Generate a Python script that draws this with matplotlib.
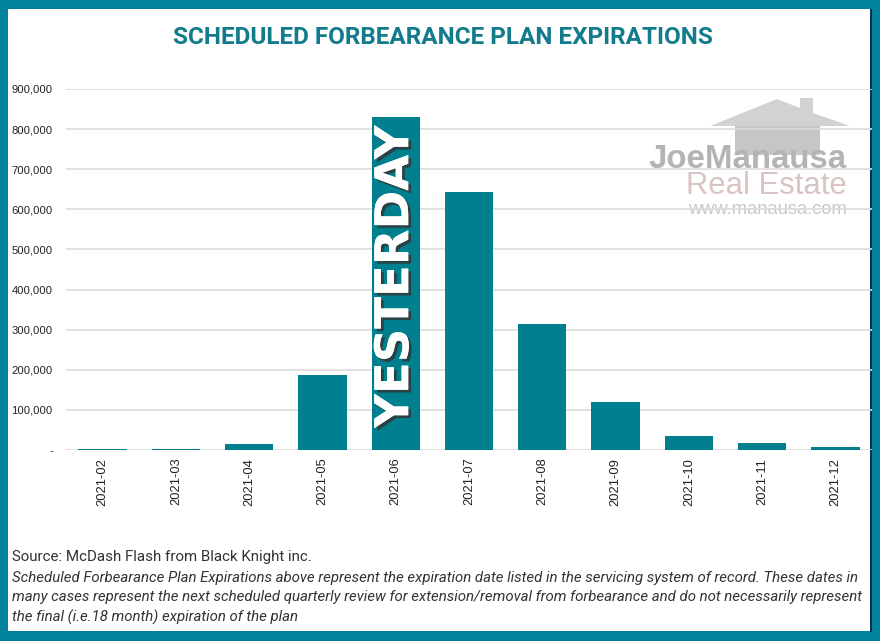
"""Scheduled forbearance plan expirations - bar chart"""

import matplotlib
matplotlib.use('Agg')

import matplotlib.pyplot as plt
import matplotlib.patheffects as pe
from matplotlib.patches import Rectangle, Polygon
from matplotlib.ticker import FuncFormatter

# data
months = ['2021-02', '2021-03', '2021-04', '2021-05', '2021-06', '2021-07',
          '2021-08', '2021-09', '2021-10', '2021-11', '2021-12']
expirations = [3000, 3000, 15000, 187000, 830000, 643000,
               314000, 120000, 35000, 17000, 7000]
yticks = [0, 100000, 200000, 300000, 400000, 500000, 600000, 700000, 800000, 900000]

title = 'SCHEDULED FORBEARANCE PLAN EXPIRATIONS'
source = 'Source: McDash Flash from Black Knight inc.'
note_lines = [
    'Scheduled Forbearance Plan Expirations above represent the expiration date listed in the servicing system of record. These dates in',
    'many cases represent the next scheduled quarterly review for extension/removal from forbearance and do not necessarily represent',
    'the final (i.e.18 month) expiration of the plan',
]

TEAL = '#00808f'
FRAME = '#00829a'
sans = ['Liberation Sans', 'DejaVu Sans']
narrow = ['Roboto', 'DejaVu Sans']

plt.rcParams['font.family'] = sans

fig = plt.figure(figsize=(8.8, 6.41), dpi=100)
W, H = 880, 641


def fx(px):
    return px / W


def fy(py):
    return 1 - py / H


def fit_width(t, width):
    # scale font so the text spans the given pixel width
    r = fig.canvas.get_renderer()
    w = t.get_window_extent(r).width
    t.set_fontsize(t.get_fontsize() * width / w)


# teal frame with white card
fig.patches.append(Rectangle((0, 0), 1, 1, transform=fig.transFigure,
                             facecolor=FRAME, edgecolor='none', zorder=-10))
fig.patches.append(Rectangle((fx(8), fy(631)), fx(862), 622 / H,
                             transform=fig.transFigure, facecolor='white',
                             edgecolor='none', zorder=-9))
fig.patches.append(Rectangle((fx(870), fy(632)), fx(1.5), 623 / H,
                             transform=fig.transFigure, facecolor='#102a5a',
                             edgecolor='none', zorder=-8))

# watermark (behind the chart)
roof = Polygon([(fx(710), fy(126)), (fx(777), fy(99)), (fx(800), fy(108)),
                (fx(800), fy(98)), (fx(813), fy(98)), (fx(813), fy(113)),
                (fx(850), fy(126))],
               transform=fig.transFigure, facecolor='#d2d2d2', edgecolor='none', zorder=-5)
body = Rectangle((fx(735), fy(155)), fx(85), 29 / H, transform=fig.transFigure,
                 facecolor='#c6c6c6', edgecolor='none', zorder=-5)
fig.patches.extend([roof, body])
wm1 = fig.text(fx(847), fy(160), 'JoeManausa', ha='right', va='center', fontsize=24,
               fontweight='bold', color='#b4b4b4', family=sans, zorder=-4)
wm2 = fig.text(fx(847), fy(186), 'Real Estate', ha='right', va='center', fontsize=22,
               color='#d9c3c3', family=sans, zorder=-4)
wm3 = fig.text(fx(847), fy(209), 'www.manausa.com', ha='right', va='center', fontsize=13,
               color='#c8c8c8', family=sans, zorder=-4)

ax = fig.add_axes([fx(66), fy(450), fx(806), 361 / H])
ax.set_facecolor('none')

x = range(len(months))
ax.bar(x, expirations, width=0.66, color=TEAL, zorder=3)

ax.set_xlim(-0.5, len(months) - 0.5)
ax.set_ylim(0, 900000)
ax.set_yticks(yticks)
ax.yaxis.set_major_formatter(FuncFormatter(lambda v, p: '-' if v == 0 else f'{int(v):,}'))
ax.set_xticks(list(x))
ax.set_xticklabels(months, rotation=90, fontsize=9.3, color='#222222')
ax.tick_params(axis='y', labelsize=8.1, colors='#222222', length=0, pad=9.5)
ax.tick_params(axis='x', length=0, pad=5.5)
ax.grid(axis='y', color='#dcdcdc', linewidth=1.2, zorder=0)
for s in ax.spines.values():
    s.set_visible(False)

# YESTERDAY label on the 2021-06 bar
idx = months.index('2021-06')
ax.text(idx, 432000, 'YESTERDAY', rotation=90, ha='center', va='center',
        fontsize=33.5, fontweight='bold', color='white', family=['DejaVu Sans'], zorder=5,
        path_effects=[pe.withSimplePatchShadow(offset=(2, -2), shadow_rgbFace='#333333', alpha=0.8),
                      pe.Normal()])

# title and notes
t_title = fig.text(fx(443), fy(38), title, ha='center', va='center', fontsize=16,
                   fontweight='bold', color='#127b8c', family=narrow)
t_src = fig.text(fx(12), fy(557), source, ha='left', va='center', fontsize=11,
                 color='#333333', family=narrow)
t_notes = []
for i, line in enumerate(note_lines):
    t_notes.append(fig.text(fx(12), fy(578 + 19.5 * i), line, ha='left', va='center',
                            fontsize=10, style='italic', color='#333333', family=narrow))

fit_width(t_title, 539)
fit_width(t_src, 300)
fit_width(wm1, 199)
fit_width(wm2, 160)
fit_width(wm3, 158)
fit_width(t_notes[0], 846)
for t in t_notes[1:]:
    t.set_fontsize(t_notes[0].get_fontsize())

plt.savefig('out.png', dpi=100, facecolor=FRAME)
plt.close()
